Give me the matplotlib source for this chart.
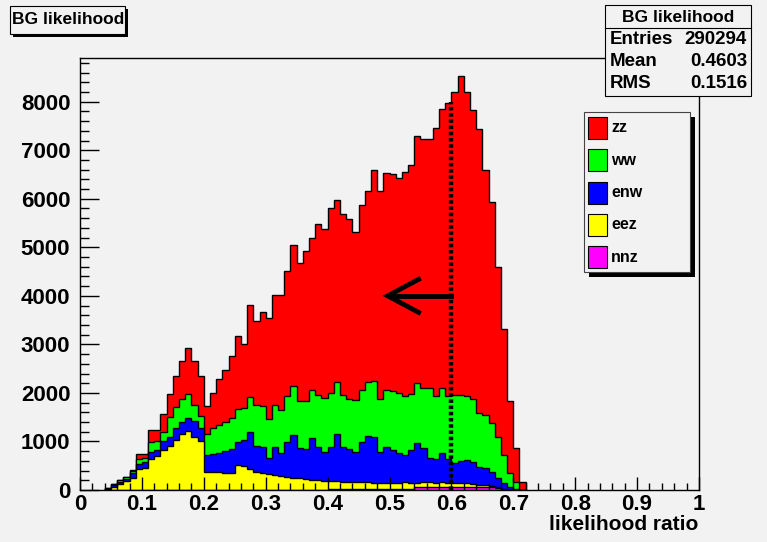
import numpy as np
import matplotlib.pyplot as plt
from matplotlib.patches import Rectangle
from matplotlib.ticker import MultipleLocator, FuncFormatter

# canvas size in pixels, everything placed in pixel units
W, H = 767, 542
bg = '#f2f2f2'

# histogram: 0.01 wide bins, first filled bin starts at 0.04
first_edge = 0.04
bin_width = 0.01

# stacked heights (top of each layer, cumulative)
top_zz = [34, 124, 207, 275, 413, 750, 750, 1226, 1226, 1563,
          1983, 2342, 2665, 2927, 2665, 2342, 1722, 1997, 2286, 2466,
          2769, 3168, 3017, 3802, 3478, 3664, 3547, 4015, 4015, 4511,
          5055, 4683, 4917, 5200, 5475, 5386, 5820, 5971, 5696, 5592,
          5324, 5868, 6164, 6600, 6160, 6530, 6500, 6430, 6550, 6700,
          7300, 7240, 7240, 7460, 7850, 7970, 8190, 8520, 8190, 7830,
          7430, 6590, 5930, 4590, 3320, 1825, 860, 170]
top_ww = [34, 120, 200, 265, 400, 640, 660, 990, 1000, 1200,
          1500, 1700, 1870, 1970, 1760, 1530, 1150, 1280, 1340, 1410,
          1480, 1670, 1690, 1915, 1756, 1722, 1460, 1756, 1653, 1942,
          2135, 1825, 1825, 2052, 1963, 1894, 1997, 2218, 1963, 1873,
          1846, 2052, 2218, 2238, 1873, 2066, 2032, 1997, 1928, 1983,
          2204, 2100, 2100, 1928, 2100, 1928, 1960, 1950, 1928, 1873,
          1584, 1550, 1377, 1100, 720, 344, 172, 0]
top_enw = [25, 95, 160, 220, 340, 540, 570, 780, 820, 1000,
           1100, 1270, 1400, 1480, 1420, 1270, 720, 740, 760, 800,
           840, 980, 1033, 1185, 909, 882, 654, 895, 758, 999,
           1123, 861, 840, 1067, 895, 792, 882, 1150, 882, 840,
           792, 999, 1116, 1102, 792, 882, 826, 771, 723, 826,
           964, 861, 654, 634, 758, 634, 551, 606, 620, 585,
           482, 447, 379, 241, 138, 69, 20, 0]
top_eez = [20, 70, 130, 180, 240, 430, 450, 640, 700, 830,
           900, 1030, 1150, 1220, 1100, 1000, 370, 380, 370, 360,
           350, 520, 500, 440, 380, 350, 320, 300, 280, 265,
           255, 245, 235, 210, 200, 190, 185, 180, 172, 165,
           160, 160, 155, 150, 145, 140, 140, 150, 155, 150,
           150, 160, 155, 150, 155, 150, 150, 150, 140, 130,
           110, 100, 80, 55, 30, 10, 0, 0]
top_nnz = [0, 0, 0, 0, 0, 0, 0, 0, 0, 0,
           0, 0, 0, 0, 0, 0, 0, 0, 0, 0,
           0, 0, 0, 0, 0, 0, 10, 10, 10, 10,
           10, 10, 10, 10, 10, 10, 20, 20, 20, 20,
           20, 20, 20, 20, 20, 30, 30, 30, 30, 30,
           60, 60, 60, 60, 60, 60, 60, 60, 60, 60,
           60, 60, 60, 40, 20, 5, 0, 0]

names = ['zz', 'ww', 'enw', 'eez', 'nnz']
colors = ['#ff0000', '#00ff00', '#0000ff', '#ffff00', '#ff00ff']

# stats box text
stat_title = 'BG likelihood'
stat_rows = [('Entries', '290294'), ('Mean', '0.4603'), ('RMS', '0.1516')]
cut_value = 0.6

plt.rcParams['font.family'] = ['Liberation Sans', 'DejaVu Sans']
plt.rcParams['font.weight'] = 'bold'


def fx(px):
    return px / W


def fy(py):
    return 1 - py / H


edges = first_edge + bin_width * np.arange(len(top_zz) + 1)

fig = plt.figure(figsize=(W / 100, H / 100), dpi=100, facecolor=bg)
ax = fig.add_axes([fx(80), fy(490), fx(699) - fx(80), fy(58) - fy(490)])
ax.set_facecolor(bg)

# draw cumulative histograms from the top layer down, like THStack
for vals, c in zip([top_zz, top_ww, top_enw, top_eez, top_nnz], colors):
    ax.stairs(vals, edges, baseline=0, fill=True, facecolor=c,
              edgecolor='black', linewidth=1.0)

ax.set_xlim(0, 1)
ax.set_ylim(0, 8900)

# cut line and arrow
ax.plot([cut_value, cut_value], [0, 8000], color='black', lw=3.2,
        linestyle=(0, (0.8, 0.6)), solid_capstyle='butt')
arrow_y = 4000
tip = 0.497
ax.plot([cut_value, tip + 0.004], [arrow_y, arrow_y], color='black', lw=3.5)
ax.plot([tip + 0.05, tip, tip + 0.05], [arrow_y + 340, arrow_y, arrow_y - 340],
        color='black', lw=3.5, solid_joinstyle='miter')

# axes styling (ROOT like: ticks inside, bold labels)
ax.xaxis.set_major_locator(MultipleLocator(0.1))
ax.xaxis.set_minor_locator(MultipleLocator(0.02))
ax.yaxis.set_major_locator(MultipleLocator(1000))
ax.yaxis.set_minor_locator(MultipleLocator(200))
ax.xaxis.set_major_formatter(FuncFormatter(lambda v, p: f'{v:g}'))
ax.tick_params(axis='x', which='major', direction='in', length=9.5, width=1,
               labelsize=16, pad=3)
ax.tick_params(axis='x', which='minor', direction='in', length=4.8, width=1)
ax.tick_params(axis='y', which='major', direction='in', length=13.5, width=1,
               labelsize=16, pad=7)
ax.tick_params(axis='y', which='minor', direction='in', length=6.8, width=1)
for lab in ax.get_xticklabels() + ax.get_yticklabels():
    lab.set_fontweight('bold')
for s in ax.spines.values():
    s.set_linewidth(1)

fig.text(fx(698), fy(525), 'likelihood ratio', ha='right', va='center',
         fontsize=15, fontweight='bold')

# title box with shadow
fig.patches.append(Rectangle((fx(13), fy(37)), fx(128) - fx(13), fy(9) - fy(37),
                             transform=fig.transFigure, facecolor='black',
                             edgecolor='black', lw=0))
fig.patches.append(Rectangle((fx(10), fy(34)), fx(125) - fx(10), fy(6) - fy(34),
                             transform=fig.transFigure, facecolor=bg,
                             edgecolor='black', lw=0.8))
fig.text(fx(68), fy(20), 'BG likelihood', ha='center', va='center',
         fontsize=12.5, fontweight='bold')

# stats box
fig.patches.append(Rectangle((fx(605), fy(96)), fx(751) - fx(605), fy(5) - fy(96),
                             transform=fig.transFigure, facecolor=bg,
                             edgecolor='black', lw=0.8))
fig.lines.append(plt.Line2D([fx(605), fx(751)], [fy(28), fy(28)],
                            transform=fig.transFigure, color='black', lw=0.8))
fig.text(fx(678), fy(17), stat_title, ha='center', va='center',
         fontsize=12.5, fontweight='bold')
for i, (k, v) in enumerate(stat_rows):
    yy = 40 + 21.5 * i
    fig.text(fx(610), fy(yy), k, ha='left', va='center', fontsize=13.5, fontweight='bold')
    fig.text(fx(747), fy(yy), v, ha='right', va='center', fontsize=13.5, fontweight='bold')

# legend box with shadow
fig.patches.append(Rectangle((fx(589), fy(277)), fx(695) - fx(589), fy(117) - fy(277),
                             transform=fig.transFigure, facecolor='black', lw=0))
fig.patches.append(Rectangle((fx(584), fy(272)), fx(690) - fx(584), fy(112) - fy(272),
                             transform=fig.transFigure, facecolor=bg,
                             edgecolor='#444444', lw=0.8))
for i, (n, c) in enumerate(zip(names, colors)):
    yc = 128 + 32.3 * i
    fig.patches.append(Rectangle((fx(588), fy(yc + 11)), fx(607) - fx(588), fy(yc - 11) - fy(yc + 11),
                                 transform=fig.transFigure, facecolor=c,
                                 edgecolor='black', lw=0.8))
    fig.text(fx(611), fy(yc), n, ha='left', va='center', fontsize=11.5, fontweight='bold')

fig.savefig('out.png', dpi=100, facecolor=bg)
